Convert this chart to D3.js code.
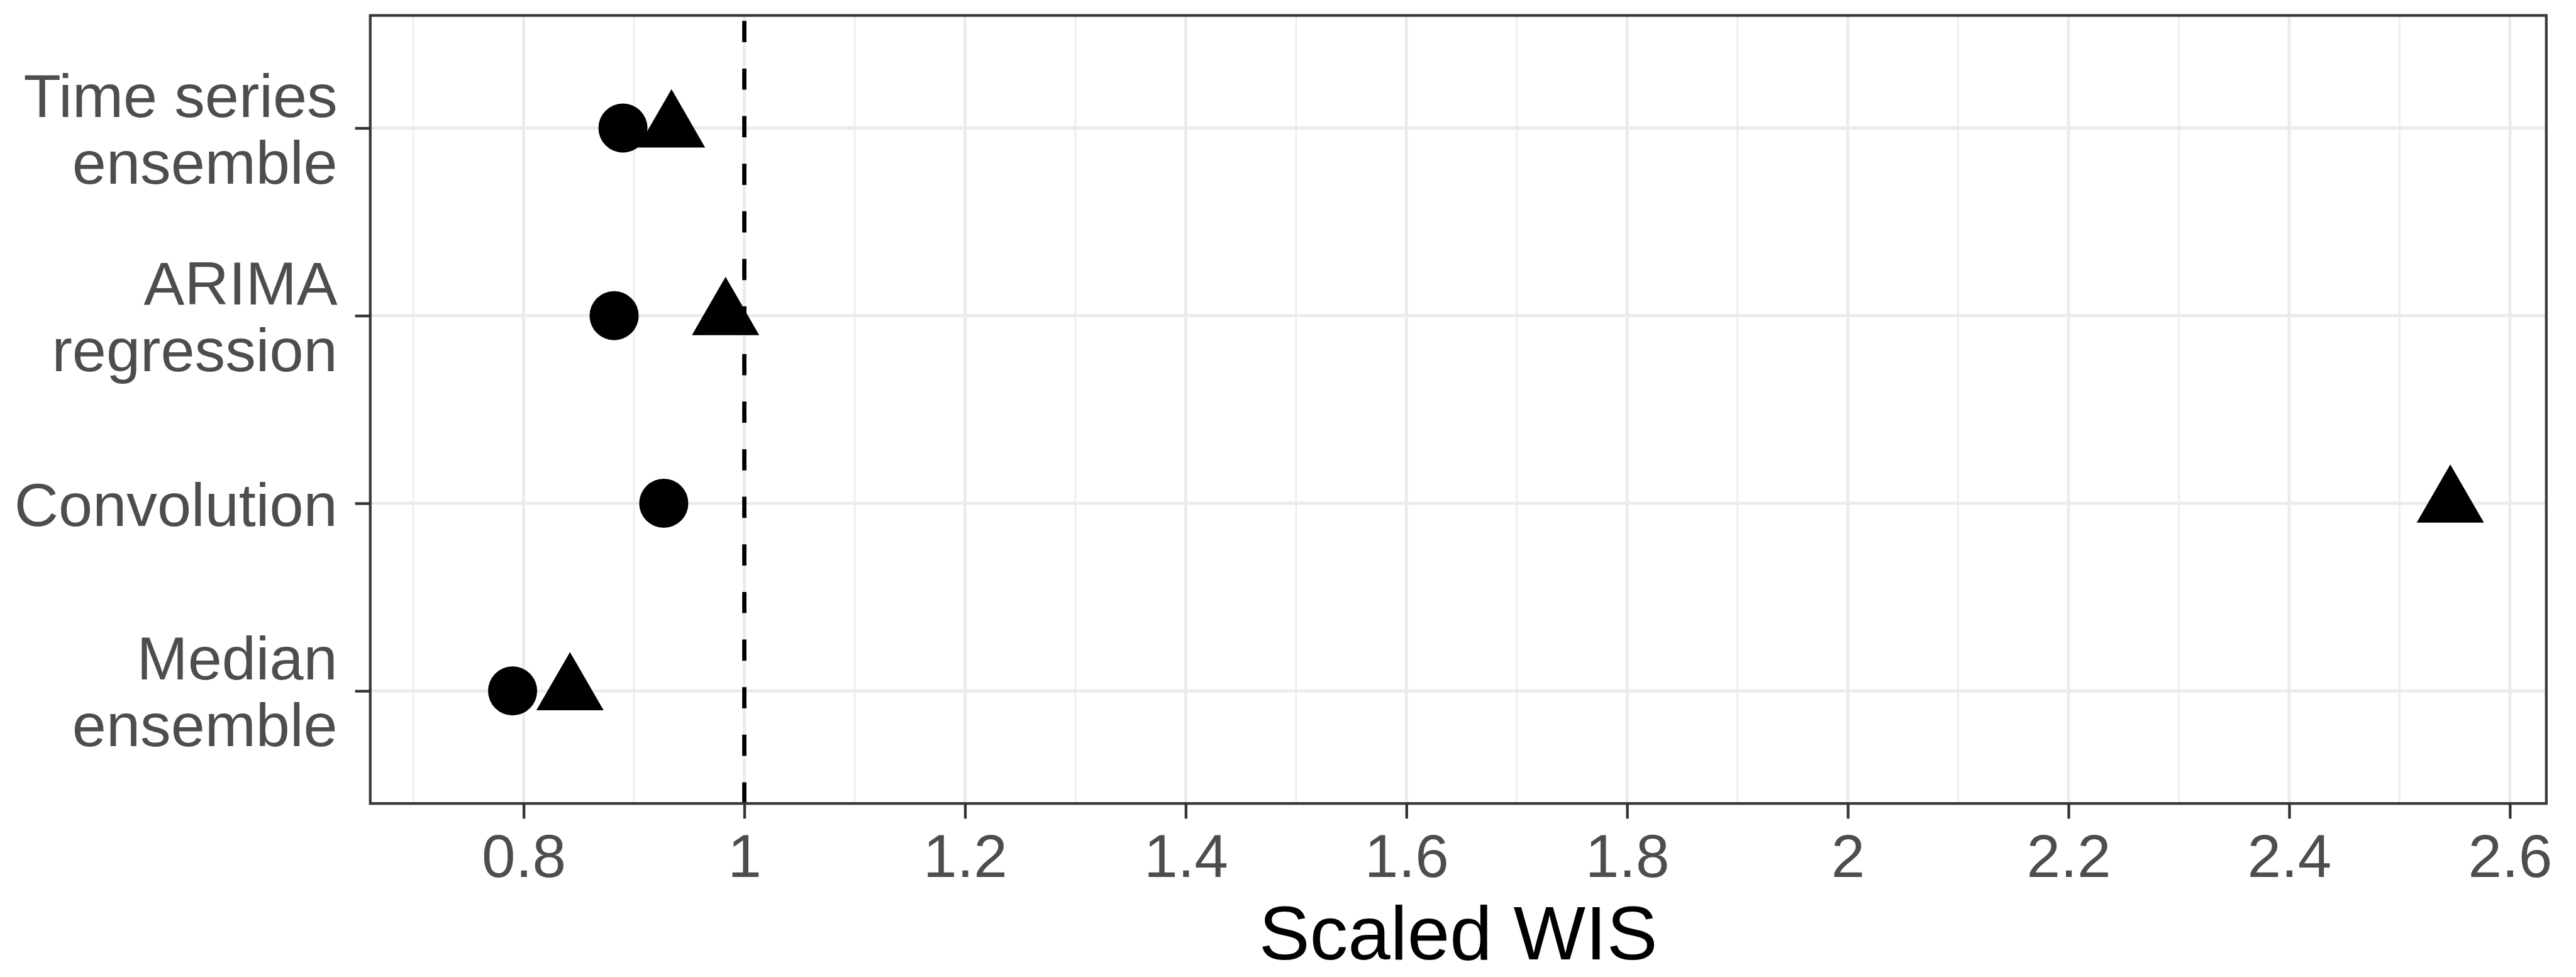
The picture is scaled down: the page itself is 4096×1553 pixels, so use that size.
<!DOCTYPE html>
<html>
<head>
<meta charset="utf-8">
<script src="https://cdn.jsdelivr.net/npm/d3@7"></script>
<style>
  html, body { margin: 0; padding: 0; background: #ffffff; }
  svg { display: block; }
</style>
</head>
<body>
<script>
// Models, top to bottom; each label is split into its printed lines
const models = ["Time series ensemble", "ARIMA regression", "Convolution", "Median ensemble"];
const modelLines = [["Time series", "ensemble"], ["ARIMA", "regression"], ["Convolution"], ["Median", "ensemble"]];

// Scaled WIS per model for the two series (circle / triangle markers)
const circleValues = [0.890, 0.882, 0.927, 0.790];
const triangleValues = [0.934, 0.983, 2.546, 0.842];

// X axis ticks and gridlines
const xTickValues = [0.8, 1.0, 1.2, 1.4, 1.6, 1.8, 2.0, 2.2, 2.4, 2.6];
const xTickLabels = ["0.8", "1", "1.2", "1.4", "1.6", "1.8", "2", "2.2", "2.4", "2.6"];
const xMinorValues = [0.7, 0.9, 1.1, 1.3, 1.5, 1.7, 1.9, 2.1, 2.3, 2.5];
const xDomain = [0.661, 2.633];
const referenceLine = 1;
const xTitle = "Scaled WIS";

// Drawing is laid out on a 4251 x 1612 design grid, then scaled to the window
const W = 4096, H = 1553;
const k = W / 4251;
const FONT = "'Liberation Sans', Arial, Helvetica, sans-serif";

const panel = { left: 611, right: 4202, top: 25.5, bottom: 1325.5 };

const svg = d3.select("body").append("svg")
  .attr("width", W).attr("height", H)
  .attr("viewBox", `0 0 ${W} ${H}`);
svg.append("rect").attr("width", W).attr("height", H).attr("fill", "#ffffff");

const root = svg.append("g").attr("transform", `scale(${k})`);

const x = d3.scaleLinear().domain(xDomain).range([panel.left, panel.right]);
const y = d3.scalePoint().domain(models).range([panel.top, panel.bottom]).padding(0.6);

// Panel background
root.append("rect")
  .attr("x", panel.left).attr("y", panel.top)
  .attr("width", panel.right - panel.left).attr("height", panel.bottom - panel.top)
  .attr("fill", "#ffffff");

// Gridlines: minor, then major (vertical) and horizontal per model
const grid = root.append("g");
grid.selectAll("line.minor").data(xMinorValues).join("line")
  .attr("class", "minor")
  .attr("x1", d => x(d)).attr("x2", d => x(d))
  .attr("y1", panel.top).attr("y2", panel.bottom)
  .attr("stroke", "#ebebeb").attr("stroke-width", 2.6);
grid.selectAll("line.majorx").data(xTickValues).join("line")
  .attr("class", "majorx")
  .attr("x1", d => x(d)).attr("x2", d => x(d))
  .attr("y1", panel.top).attr("y2", panel.bottom)
  .attr("stroke", "#ebebeb").attr("stroke-width", 5);
grid.selectAll("line.majory").data(models).join("line")
  .attr("class", "majory")
  .attr("x1", panel.left).attr("x2", panel.right)
  .attr("y1", d => y(d)).attr("y2", d => y(d))
  .attr("stroke", "#ebebeb").attr("stroke-width", 5);

// Dashed reference line at 1 (drawn bottom to top)
root.append("line")
  .attr("x1", x(referenceLine)).attr("x2", x(referenceLine))
  .attr("y1", panel.bottom).attr("y2", panel.top)
  .attr("stroke", "#000000").attr("stroke-width", 7)
  .attr("stroke-dasharray", "35 43.5");

// Points
const pts = root.append("g");
pts.selectAll("path.circ").data(models).join("path")
  .attr("class", "circ")
  .attr("transform", (d, i) => `translate(${x(circleValues[i])},${y(d)})`)
  .attr("d", d3.symbol().type(d3.symbolCircle).size(Math.PI * 40.5 * 40.5))
  .attr("fill", "#000000");
pts.selectAll("path.tri").data(models).join("path")
  .attr("class", "tri")
  .attr("transform", (d, i) => `translate(${x(triangleValues[i])},${y(d)})`)
  .attr("d", d3.symbol().type(d3.symbolTriangle).size(Math.sqrt(3) / 4 * 111 * 111))
  .attr("fill", "#000000");

// Panel border
root.append("rect")
  .attr("x", panel.left).attr("y", panel.top)
  .attr("width", panel.right - panel.left).attr("height", panel.bottom - panel.top)
  .attr("fill", "none").attr("stroke", "#3a3a3a").attr("stroke-width", 4.5);

// X axis
const xAxis = root.append("g")
  .attr("transform", `translate(0,${panel.bottom})`)
  .call(d3.axisBottom(x).tickValues(xTickValues)
    .tickFormat((d, i) => xTickLabels[i]).tickSize(25).tickPadding(0));
xAxis.select(".domain").remove();
xAxis.selectAll(".tick line").attr("stroke", "#333333").attr("stroke-width", 4.5);
xAxis.selectAll(".tick text")
  .attr("y", 1447 - panel.bottom).attr("dy", null)
  .attr("fill", "#4d4d4d")
  .style("font-family", FONT).style("font-size", "100px");

// Y axis with multi-line labels
const yAxis = root.append("g")
  .attr("transform", `translate(${panel.left},0)`)
  .call(d3.axisLeft(y).tickSize(25).tickPadding(0));
yAxis.select(".domain").remove();
yAxis.selectAll(".tick line").attr("stroke", "#333333").attr("stroke-width", 4.5);
yAxis.selectAll(".tick text").each(function (d) {
  const lines = modelLines[models.indexOf(d)];
  const t = d3.select(this)
    .text(null)
    .attr("x", 557 - panel.left).attr("dy", null).attr("y", null)
    .attr("text-anchor", "end")
    .attr("fill", "#4d4d4d")
    .style("font-family", FONT).style("font-size", "101px");
  const first = lines.length === 1 ? 36.5 : -19;
  lines.forEach((ln, j) => {
    t.append("tspan")
      .attr("x", 557 - panel.left)
      .attr("y", first + j * 110)
      .text(ln);
  });
});

// Axis title
root.append("text")
  .attr("x", (panel.left + panel.right) / 2).attr("y", 1583)
  .attr("text-anchor", "middle")
  .attr("fill", "#000000")
  .style("font-family", FONT).style("font-size", "126px")
  .text(xTitle);
</script>
</body>
</html>
